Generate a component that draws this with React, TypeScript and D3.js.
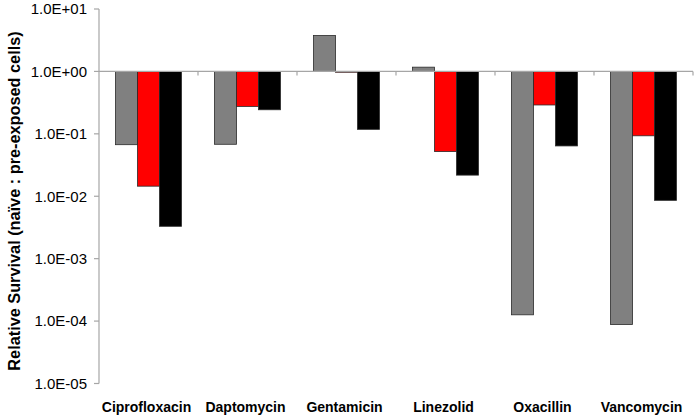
import React from "react";
import * as d3 from "d3";

const categories = ["Ciprofloxacin", "Daptomycin", "Gentamicin", "Linezolid", "Oxacillin", "Vancomycin"];
const seriesNames = ["s1", "s2", "s3"];
const seriesColors = ["#808080", "#ff0000", "#000000"];
const grayValues = [0.067, 0.068, 3.77, 1.17, 1.26e-4, 8.8e-5];
const redValues = [0.0145, 0.275, 0.97, 0.052, 0.29, 0.093];
const blackValues = [0.0033, 0.243, 0.118, 0.0218, 0.064, 0.0086];
const tickValues = [1e1, 1e0, 1e-1, 1e-2, 1e-3, 1e-4, 1e-5];
const tickLabels = ["1.0E+01", "1.0E+00", "1.0E-01", "1.0E-02", "1.0E-03", "1.0E-04", "1.0E-05"];
const yTitle = "Relative Survival (naïve : pre-exposed cells)";

export default function App() {
  const W = 698, H = 419;
  const left = 99, right = 693, top = 9, bottom = 383.5;
  const y = d3.scaleLog().domain([1e-5, 10]).range([bottom, top]);
  const x = d3.scaleBand<string>().domain(categories).range([left, right]).padding(0);
  const xs = d3.scaleBand<string>().domain(seriesNames).range([0, x.bandwidth()]).paddingInner(0).paddingOuter(0.75);
  const series = [grayValues, redValues, blackValues];
  const base = y(1);
  const axisColor = "#a6a6a6";
  const font = "Arial, 'Liberation Sans', sans-serif";
  return (
    <svg width={W} height={H} style={{ position: "absolute", left: 0, top: 0, background: "#fff" }}>
      {/* bars */}
      {categories.map((c, i) =>
        series.map((vals, s) => {
          const v = vals[i];
          const yv = y(v);
          const y0 = Math.min(yv, base);
          const h = Math.abs(yv - base);
          return (
            <rect
              key={c + s}
              x={(x(c) as number) + (xs(seriesNames[s]) as number)}
              y={y0}
              width={xs.bandwidth()}
              height={Math.max(h, 0.5)}
              fill={seriesColors[s]}
              stroke="#2a2a2a"
              strokeWidth={0.8}
            />
          );
        })
      )}
      {/* y axis */}
      <line x1={left} x2={left} y1={y(10)} y2={y(1e-5)} stroke={axisColor} strokeWidth={1.2} />
      {tickValues.map((t, i) => (
        <g key={t}>
          <line x1={left - 5} x2={left} y1={y(t)} y2={y(t)} stroke={axisColor} strokeWidth={1.2} />
          <text x={87} y={y(t)} dy="0.35em" textAnchor="end" fontFamily={font} fontSize={15} fill="#000">
            {tickLabels[i]}
          </text>
        </g>
      ))}
      {/* baseline axis at 1.0 */}
      <line x1={left} x2={right} y1={base} y2={base} stroke={axisColor} strokeWidth={1.2} />
      {categories.map((c) => (
        <line key={"t" + c} x1={(x(c) as number) + x.bandwidth()} x2={(x(c) as number) + x.bandwidth()} y1={base} y2={base + 4} stroke={axisColor} strokeWidth={1.2} />
      ))}
      {/* category labels */}
      {categories.map((c) => (
        <text key={"l" + c} x={(x(c) as number) + x.bandwidth() / 2 - 2} y={412} textAnchor="middle" fontFamily={font} fontWeight="bold" fontSize={14} fill="#000">
          {c}
        </text>
      ))}
      {/* y title */}
      <text transform={`translate(20, ${201}) rotate(-90)`} textAnchor="middle" fontFamily={font} fontWeight="bold" fontSize={16.3} fill="#000">
        {yTitle}
      </text>
    </svg>
  );
}
